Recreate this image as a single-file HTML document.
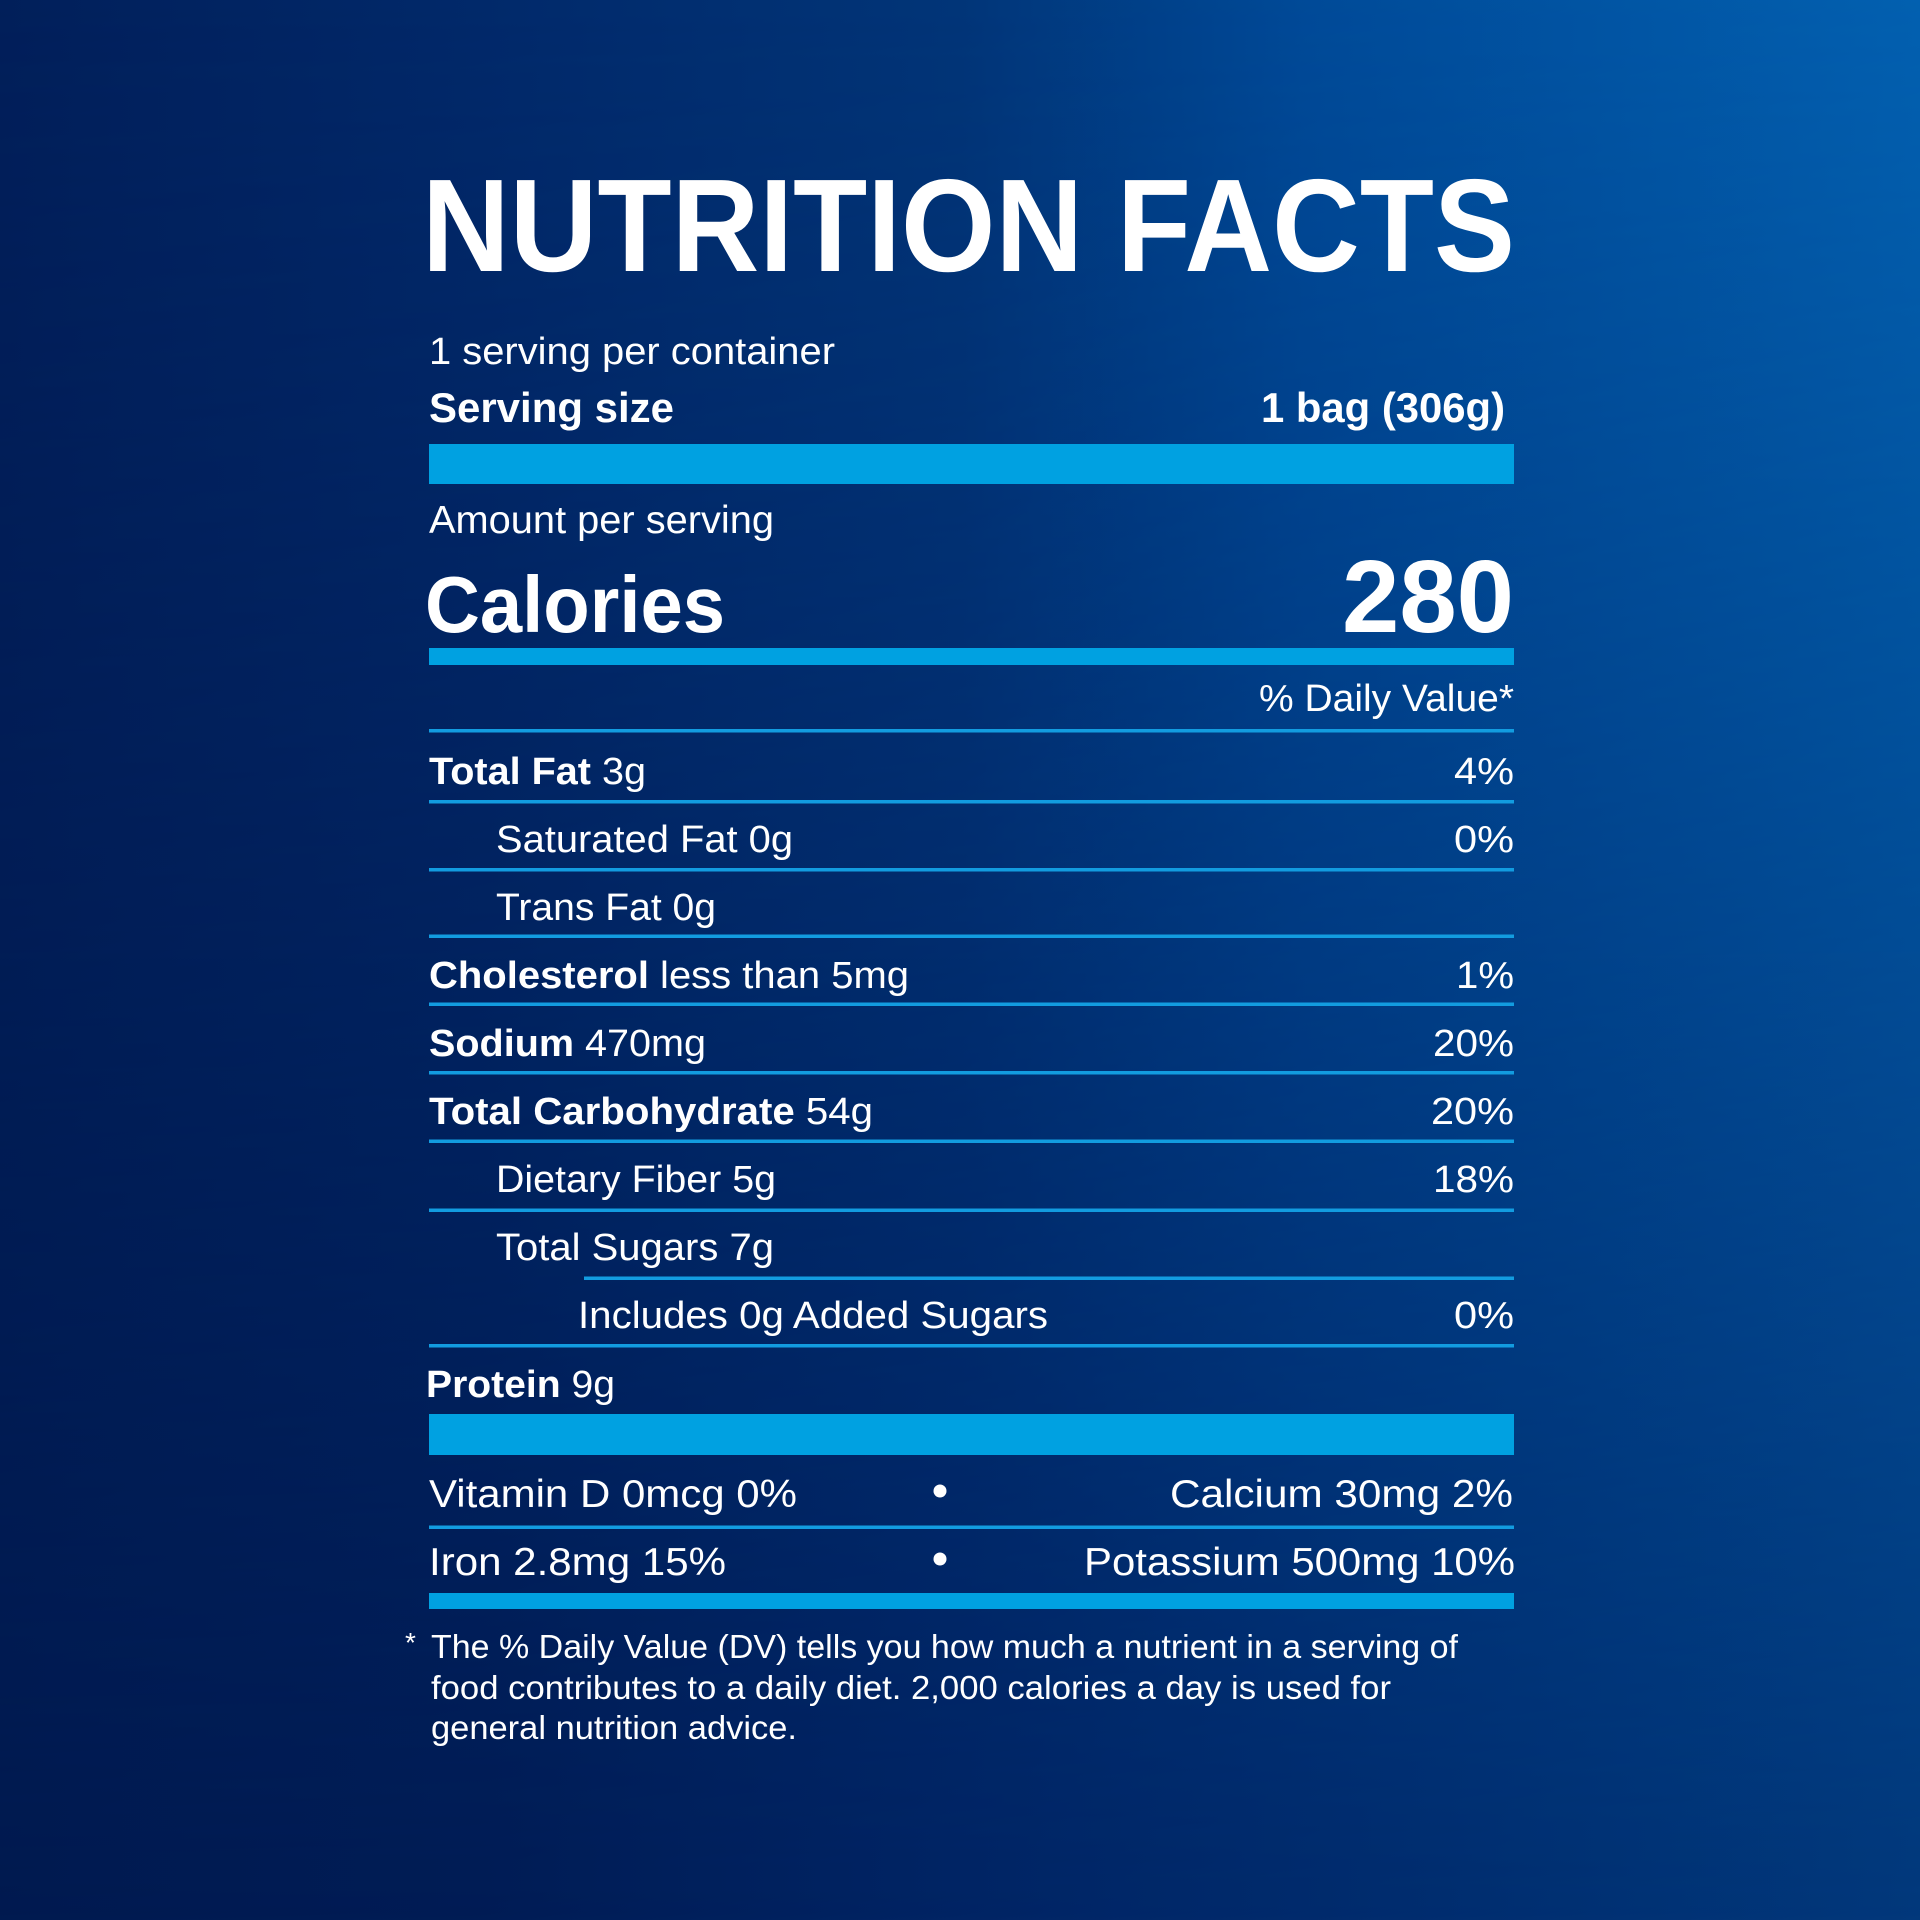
<!DOCTYPE html>
<html>
<head>
<meta charset="utf-8">
<style>
  html,body{margin:0;padding:0;background:#012a68;}
  svg{display:block;}
  text{font-family:"Liberation Sans", Arial, sans-serif; fill:#ffffff;}
  .b{font-weight:bold;}
</style>
</head>
<body>
<svg width="1920" height="1920" viewBox="0 0 1920 1920" xmlns="http://www.w3.org/2000/svg">
  <defs>
    <linearGradient id="bot" gradientUnits="userSpaceOnUse" x1="0" y1="0" x2="1920" y2="0">
      <stop offset="0" stop-color="#001a50"/>
      <stop offset="0.25" stop-color="#001c55"/>
      <stop offset="0.5" stop-color="#012464"/>
      <stop offset="0.75" stop-color="#012d6f"/>
      <stop offset="1" stop-color="#02387b"/>
    </linearGradient>
    <linearGradient id="top" gradientUnits="userSpaceOnUse" x1="0" y1="0" x2="1920" y2="0">
      <stop offset="0" stop-color="#011f5a"/>
      <stop offset="0.25" stop-color="#01296a"/>
      <stop offset="0.5" stop-color="#013578"/>
      <stop offset="0.68" stop-color="#004a98"/>
      <stop offset="1" stop-color="#0260b0"/>
    </linearGradient>
    <linearGradient id="vm" gradientUnits="userSpaceOnUse" x1="0" y1="0" x2="0" y2="1920">
      <stop offset="0" stop-color="#ffffff"/>
      <stop offset="1" stop-color="#000000"/>
    </linearGradient>
    <mask id="m" maskUnits="userSpaceOnUse" x="0" y="0" width="1920" height="1920">
      <rect x="0" y="0" width="1920" height="1920" fill="url(#vm)"/>
    </mask>
  </defs>
  <rect x="0" y="0" width="1920" height="1920" fill="url(#bot)"/>
  <rect x="0" y="0" width="1920" height="1920" fill="url(#top)" mask="url(#m)"/>

  <!-- Title -->
  <text class="b" x="422" y="271" font-size="132" textLength="1093" lengthAdjust="spacingAndGlyphs">NUTRITION FACTS</text>

  <!-- Servings -->
  <text x="429" y="364" font-size="38" textLength="406" lengthAdjust="spacingAndGlyphs">1 serving per container</text>
  <text class="b" x="429" y="422" font-size="42" textLength="245" lengthAdjust="spacingAndGlyphs">Serving size</text>
  <text class="b" x="1505" y="422" font-size="42" text-anchor="end" textLength="244" lengthAdjust="spacingAndGlyphs">1 bag (306g)</text>

  <rect x="429" y="444" width="1085" height="40" fill="#00a1e1"/>

  <text x="429" y="533" font-size="39" textLength="345" lengthAdjust="spacingAndGlyphs">Amount per serving</text>
  <text class="b" x="425" y="632" font-size="80" textLength="300" lengthAdjust="spacingAndGlyphs">Calories</text>
  <text class="b" x="1514" y="632" font-size="103" text-anchor="end" textLength="172" lengthAdjust="spacingAndGlyphs">280</text>

  <rect x="429" y="648" width="1085" height="17" fill="#00a1e1"/>

  <text x="1514" y="711" font-size="38" text-anchor="end" textLength="255" lengthAdjust="spacingAndGlyphs">% Daily Value*</text>

  <!-- thin lines -->
  <g fill="#129ce0">
    <rect x="429" y="729" width="1085" height="3.5"/>
    <rect x="429" y="800" width="1085" height="3.5"/>
    <rect x="429" y="868" width="1085" height="3.5"/>
    <rect x="429" y="934.5" width="1085" height="3.5"/>
    <rect x="429" y="1002.5" width="1085" height="3.5"/>
    <rect x="429" y="1071" width="1085" height="3.5"/>
    <rect x="429" y="1139.5" width="1085" height="3.5"/>
    <rect x="429" y="1208.5" width="1085" height="3.5"/>
    <rect x="584" y="1276.5" width="930" height="3.5"/>
    <rect x="429" y="1344" width="1085" height="3.5"/>
    <rect x="429" y="1525.5" width="1085" height="3.5"/>
  </g>

  <!-- Rows -->
  <text x="429" y="784" font-size="38" textLength="217" lengthAdjust="spacingAndGlyphs"><tspan class="b">Total Fat</tspan> 3g</text>
  <text x="1514" y="784" font-size="38" text-anchor="end" textLength="60" lengthAdjust="spacingAndGlyphs">4%</text>

  <text x="496" y="852" font-size="38" textLength="297" lengthAdjust="spacingAndGlyphs">Saturated Fat 0g</text>
  <text x="1514" y="852" font-size="38" text-anchor="end" textLength="60" lengthAdjust="spacingAndGlyphs">0%</text>

  <text x="496" y="920" font-size="38" textLength="220" lengthAdjust="spacingAndGlyphs">Trans Fat 0g</text>

  <text x="429" y="988" font-size="38" textLength="480" lengthAdjust="spacingAndGlyphs"><tspan class="b">Cholesterol</tspan> less than 5mg</text>
  <text x="1514" y="988" font-size="38" text-anchor="end" textLength="58" lengthAdjust="spacingAndGlyphs">1%</text>

  <text x="429" y="1056" font-size="38" textLength="277" lengthAdjust="spacingAndGlyphs"><tspan class="b">Sodium</tspan> 470mg</text>
  <text x="1514" y="1056" font-size="38" text-anchor="end" textLength="81" lengthAdjust="spacingAndGlyphs">20%</text>

  <text x="429" y="1124" font-size="38" textLength="444" lengthAdjust="spacingAndGlyphs"><tspan class="b">Total Carbohydrate</tspan> 54g</text>
  <text x="1514" y="1124" font-size="38" text-anchor="end" textLength="83" lengthAdjust="spacingAndGlyphs">20%</text>

  <text x="496" y="1192" font-size="38" textLength="280" lengthAdjust="spacingAndGlyphs">Dietary Fiber 5g</text>
  <text x="1514" y="1192" font-size="38" text-anchor="end" textLength="81" lengthAdjust="spacingAndGlyphs">18%</text>

  <text x="496" y="1260" font-size="38" textLength="278" lengthAdjust="spacingAndGlyphs">Total Sugars 7g</text>

  <text x="578" y="1328" font-size="38" textLength="470" lengthAdjust="spacingAndGlyphs">Includes 0g Added Sugars</text>
  <text x="1514" y="1328" font-size="38" text-anchor="end" textLength="60" lengthAdjust="spacingAndGlyphs">0%</text>

  <text x="426" y="1397" font-size="38" textLength="189" lengthAdjust="spacingAndGlyphs"><tspan class="b">Protein</tspan> 9g</text>

  <rect x="429" y="1414" width="1085" height="41" fill="#00a1e1"/>

  <!-- Vitamins -->
  <text x="429" y="1507" font-size="39" textLength="368" lengthAdjust="spacingAndGlyphs">Vitamin D 0mcg 0%</text>
  <circle cx="940" cy="1491" r="6.5" fill="#ffffff"/>
  <text x="1513" y="1507" font-size="39" text-anchor="end" textLength="343" lengthAdjust="spacingAndGlyphs">Calcium 30mg 2%</text>

  <text x="429" y="1575" font-size="39" textLength="297" lengthAdjust="spacingAndGlyphs">Iron 2.8mg 15%</text>
  <circle cx="940" cy="1559" r="6.5" fill="#ffffff"/>
  <text x="1515" y="1575" font-size="39" text-anchor="end" textLength="431" lengthAdjust="spacingAndGlyphs">Potassium 500mg 10%</text>

  <rect x="429" y="1593" width="1085" height="16" fill="#00a1e1"/>

  <!-- Footnote -->
  <text x="405" y="1652" font-size="28">*</text>
  <text x="431" y="1658" font-size="33" textLength="1027" lengthAdjust="spacingAndGlyphs">The % Daily Value (DV) tells you how much a nutrient in a serving of</text>
  <text x="431" y="1699" font-size="33" textLength="960" lengthAdjust="spacingAndGlyphs">food contributes to a daily diet. 2,000 calories a day is used for</text>
  <text x="431" y="1739" font-size="33" textLength="366" lengthAdjust="spacingAndGlyphs">general nutrition advice.</text>
</svg>
</body>
</html>
